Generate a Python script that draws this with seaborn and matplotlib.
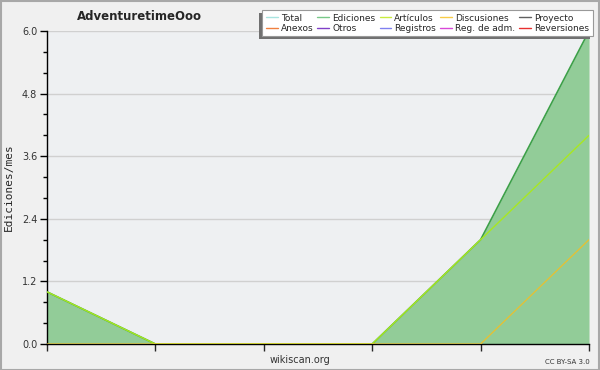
import numpy as np
import pandas as pd
import matplotlib
matplotlib.use('Agg')
import matplotlib.pyplot as plt
import seaborn as sns
from matplotlib.patches import Rectangle
from matplotlib.ticker import MultipleLocator

# Datos (6 meses)
meses = [0, 1, 2, 3, 4, 5]
ediciones = [1, 0, 0, 0, 2, 6]
articulos = [1, 0, 0, 0, 2, 4]
discusiones = [0, 0, 0, 0, 0, 2]

series = ['Total', 'Ediciones', 'Artículos', 'Discusiones', 'Proyecto',
          'Anexos', 'Otros', 'Registros', 'Reg. de adm.', 'Reversiones']
colores = ['#a8e4e0', '#78c888', '#c8ec40', '#f8cc48', '#606060',
           '#f08040', '#8040c8', '#8080f0', '#d848d8', '#e83030']

df = pd.DataFrame({'mes': meses, 'Ediciones': ediciones,
                   'Artículos': articulos, 'Discusiones': discusiones})

sns.set_style('white')
plt.rcParams['font.family'] = ['DejaVu Sans']

fig = plt.figure(figsize=(6, 3.7), dpi=100, facecolor='#f0f0f0')
ax = fig.add_axes([0.0783, 0.0703, 0.9034, 0.8459])
ax.set_facecolor('#eef0f2')

# Relleno de ediciones
ax.fill_between(df['mes'], 0, df['Ediciones'], color='#92cc98', lw=0, zorder=2)
sns.lineplot(data=df, x='mes', y='Ediciones', color='#3ca048', lw=1.2, ax=ax, zorder=3)
sns.lineplot(data=df, x='mes', y='Artículos', color='#a8e820', lw=1.0, ax=ax, zorder=4)
sns.lineplot(data=df, x='mes', y='Discusiones', color='#e8c030', lw=0.9, ax=ax, zorder=4)

ax.set_xlim(0, 5)
ax.set_ylim(0, 6)
ax.yaxis.set_minor_locator(MultipleLocator(0.4))
ax.set_xticks(meses)
ax.set_xticklabels([])
ax.set_yticks([0, 1.2, 2.4, 3.6, 4.8, 6.0])
ax.set_yticklabels(['0.0', '1.2', '2.4', '3.6', '4.8', '6.0'])
ax.grid(axis='y', color='#d0d0d0', lw=1, zorder=1)
ax.tick_params(axis='y', which='major', direction='out', length=5, width=1,
               labelsize=7, colors='black', labelcolor='#333333', left=True, pad=2)
ax.tick_params(axis='y', which='minor', direction='out', length=3, width=1,
               colors='black', left=True)
ax.tick_params(axis='x', direction='out', length=5, width=1, bottom=True)
for s in ['top', 'right']:
    ax.spines[s].set_visible(False)
for s in ['left', 'bottom']:
    ax.spines[s].set_color('black')
    ax.spines[s].set_linewidth(1)

ax.set_xlabel('')
ax.set_ylabel('Ediciones/mes', fontsize=8, labelpad=6, family='DejaVu Sans Mono')

fig.text(0.233, 0.955, 'AdventuretimeOoo', ha='center', va='center',
         fontsize=8.5, fontweight='bold')
fig.text(0.5, 0.027, 'wikiscan.org', ha='center', va='center',
         fontsize=7, color='#333333')
fig.text(0.983, 0.022, 'CC BY-SA 3.0', ha='right', va='center',
         fontsize=5, color='#333333')

# Leyenda (orden por filas)
handles = [plt.Line2D([], [], color=c, lw=1) for c in colores]
orden = [0, 5, 1, 6, 2, 7, 3, 8, 4, 9]
leg = fig.legend([handles[i] for i in orden], [series[i] for i in orden],
                 ncol=5, loc='upper right', bbox_to_anchor=(0.988, 0.973),
                 bbox_transform=fig.transFigure, fontsize=6.5,
                 frameon=True, fancybox=False, edgecolor='#999999',
                 facecolor='white', framealpha=1, handlelength=1.3,
                 handletextpad=0.35, columnspacing=0.45, labelspacing=0.12,
                 borderpad=0.4, borderaxespad=0)
leg.get_frame().set_linewidth(0.8)
leg.set_zorder(10)

fig.canvas.draw()
bb = leg.get_window_extent().transformed(fig.transFigure.inverted())
sombra = Rectangle((bb.x0 - 3 / 600, bb.y0 - 3 / 370), bb.width, bb.height,
                   transform=fig.transFigure, color='#707070', lw=0, zorder=9)
fig.add_artist(sombra)

# Borde exterior
fig.add_artist(Rectangle((0.001, 0.001), 0.998, 0.997, transform=fig.transFigure,
                         fill=False, edgecolor='#a8a8a8', lw=1.5, zorder=20))

fig.savefig('out.png', dpi=100, facecolor=fig.get_facecolor())
